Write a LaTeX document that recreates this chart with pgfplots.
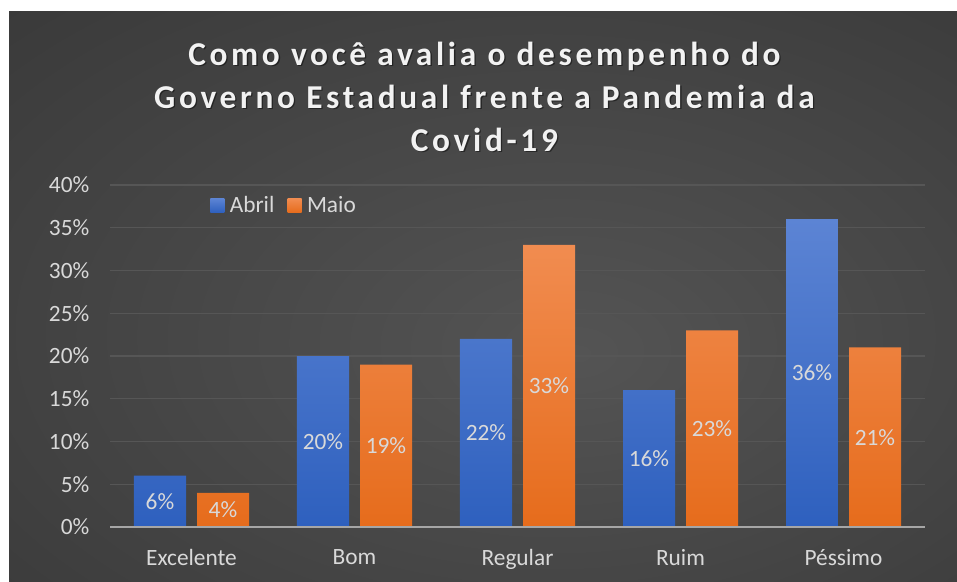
\documentclass[border=0pt]{standalone}
\usepackage{fontspec}
\setmainfont{Carlito}
\newfontfamily\titlefont[LetterSpace=11]{Carlito}
\usepackage{pgfplots}
\pgfplotsset{compat=1.18}
\definecolor{bgin}{RGB}{84,84,84}
\definecolor{bgout}{RGB}{36,36,36}
\definecolor{lbl}{RGB}{217,217,217}
\definecolor{gridc}{RGB}{86,86,86}
\definecolor{basec}{RGB}{166,166,166}
\definecolor{bluetop}{RGB}{92,132,212}
\definecolor{bluebot}{RGB}{46,96,190}
\definecolor{orgtop}{RGB}{241,140,80}
\definecolor{orgbot}{RGB}{230,108,28}
\pgfdeclareradialshading{bgshade}{\pgfpoint{5bp}{-5bp}}{color(0bp)=(bgin); color(72bp)=(bgout)}
\begin{document}
\begin{tikzpicture}
\fill[white] (0,0) rectangle (717.75pt,436.5pt);
\shade[shading=bgshade] (6.75pt,0) rectangle (717.75pt,427.5pt);
% title
\node[align=center, text=black, opacity=0.45, font=\titlefont\bfseries\fontsize{25}{32.25}\selectfont] at (364.3pt,363.3pt)
 {Como você avalia o desempenho do\\Governo Estadual frente a Pandemia da\\Covid-19};
\node[align=center, text={rgb,255:red,242;green,242;blue,242}, font=\titlefont\bfseries\fontsize{25}{32.25}\selectfont] at (363.3pt,364pt)
 {Como você avalia o desempenho do\\Governo Estadual frente a Pandemia da\\Covid-19};
\begin{axis}[
 at={(82.5pt,41.25pt)}, anchor=south west,
 width=611.25pt, height=256.5pt, scale only axis,
 xmin=-0.5, xmax=4.5, ymin=0, ymax=40,
 ytick={0,5,...,40},
 yticklabel={\pgfmathprintnumber{\tick}\%},
 xtick={0,1,2,3,4},
 xticklabels={Excelente,Bom,Regular,Ruim,Péssimo},
 /pgf/number format/assume math mode=true,
 tick style={draw=none},
 axis line style={draw=none},
 ymajorgrids, grid style={gridc, line width=1pt},
 ticklabel style={text=lbl, font=\fontsize{17.5}{20}\selectfont},
 yticklabel style={xshift=-12pt},
 xticklabel style={yshift=-9pt},
 ybar=8.25pt, bar width=39pt,
 nodes near coords={\pgfmathprintnumber{\pgfplotspointmeta}\%},
 visualization depends on={y/2 \as \half},
 every node near coord/.append style={anchor=center, text=lbl, font=\fontsize{17.5}{20}\selectfont, shift={(axis direction cs:0,-\half)}},
 legend style={at={(0.118,0.94)}, anchor=west, draw=none, fill=none, legend columns=2, text=lbl, font=\fontsize{17.5}{20}\selectfont, /tikz/every even column/.append style={column sep=6pt}, nodes={inner xsep=4pt}},
 legend image code/.code={\path[#1,draw=none] (0pt,-5.25pt) rectangle (10.5pt,5.25pt);},
]
\addplot[draw=none, top color=bluetop, bottom color=bluebot] coordinates {(0,6) (1,20) (2,22) (3,16) (4,36)};
\addplot[draw=none, top color=orgtop, bottom color=orgbot] coordinates {(0,4) (1,19) (2,33) (3,23) (4,21)};
\legend{Abril,Maio}
\draw[basec, line width=1.5pt] (rel axis cs:0,0) -- (rel axis cs:1,0);
\end{axis}
\end{tikzpicture}
\end{document}
